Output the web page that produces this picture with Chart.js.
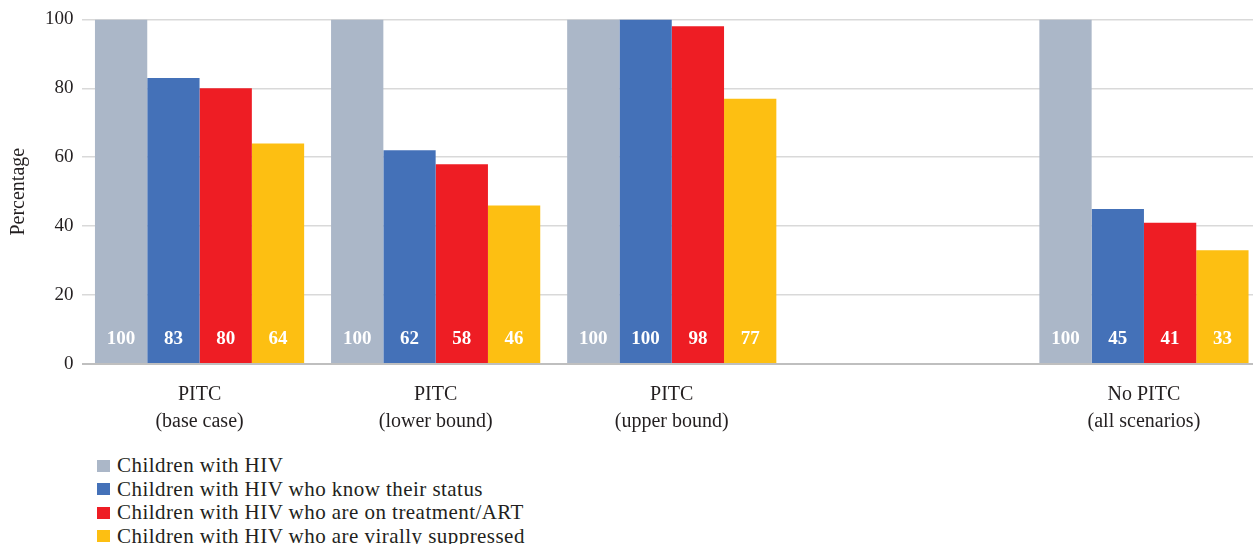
<!DOCTYPE html>
<html lang="en">
<head>
    <meta charset="UTF-8">
    <title>PITC - children with HIV</title>
    <script src="https://cdn.jsdelivr.net/npm/chart.js"></script>
    <style>
        html, body {
            margin: 0;
            padding: 0;
            background: #ffffff;
            overflow: hidden;
            width: 1253px;
            height: 544px;
        }
        #wrap {
            position: relative;
            width: 1262px;
            height: 440px;
        }
        #legend {
            position: absolute;
            left: 97px;
            top: 454px;
            font-family: "Liberation Serif", "DejaVu Serif", serif;
            font-size: 21px;
            letter-spacing: 0.45px;
            color: #231f20;
            line-height: 23.5px;
        }
        #legend .item {
            display: flex;
            align-items: center;
            white-space: nowrap;
        }
        #legend .box {
            width: 13px;
            height: 12px;
            margin-right: 7px;
            flex: none;
        }
    </style>
</head>
<body>
    <div id="wrap">
        <canvas id="chart"></canvas>
    </div>
    <div id="legend"></div>

    <script>
        // categories (the 4th one is an empty slot in the original figure)
        const categories = [
            ['PITC', '(base case)'],
            ['PITC', '(lower bound)'],
            ['PITC', '(upper bound)'],
            '',
            ['No PITC', '(all scenarios)']
        ];

        const seriesNames = [
            'Children with HIV',
            'Children with HIV who know their status',
            'Children with HIV who are on treatment/ART',
            'Children with HIV who are virally suppressed'
        ];

        const withHiv       = [100, 100, 100, null, 100];
        const knowStatus    = [83, 62, 100, null, 45];
        const onTreatment   = [80, 58, 98, null, 41];
        const suppressed    = [64, 46, 77, null, 33];

        const yTicks = [0, 20, 40, 60, 80, 100];

        const colors = ['#abb7c8', '#4471b8', '#ee1d24', '#fdbf12'];
        const serif = '"Liberation Serif", "DejaVu Serif", serif';

        // white value labels near the bottom of each bar
        const barLabels = {
            id: 'barLabels',
            afterDatasetsDraw(chart) {
                const ctx = chart.ctx;
                ctx.save();
                ctx.fillStyle = '#ffffff';
                ctx.font = 'bold 19px ' + serif;
                ctx.textAlign = 'center';
                ctx.textBaseline = 'middle';
                chart.data.datasets.forEach((ds, i) => {
                    chart.getDatasetMeta(i).data.forEach((bar, j) => {
                        if (ds.data[j] == null) return;
                        ctx.fillText(ds.data[j], bar.x, bar.base - 24);
                    });
                });
                ctx.restore();
            }
        };

        const values = [withHiv, knowStatus, onTreatment, suppressed];

        const chart = new Chart(document.getElementById('chart'), {
            type: 'bar',
            data: {
                labels: categories,
                datasets: values.map((v, i) => ({
                    label: seriesNames[i],
                    data: v,
                    backgroundColor: colors[i],
                    borderWidth: 0,
                    categoryPercentage: 0.886,
                    barPercentage: 1.0
                }))
            },
            options: {
                responsive: true,
                maintainAspectRatio: false,
                animation: false,
                layout: { padding: { top: 7, right: 0, bottom: 0, left: 0 } },
                plugins: {
                    legend: { display: false },
                    tooltip: { enabled: false }
                },
                scales: {
                    x: {
                        grid: { display: false, drawTicks: false },
                        border: { display: false },
                        ticks: {
                            color: '#231f20',
                            font: { family: serif, size: 20, lineHeight: 1.35 },
                            padding: 17,
                            autoSkip: false,
                            maxRotation: 0
                        },
                        afterFit(s) { s.height = 76; }
                    },
                    y: {
                        min: 0,
                        max: 100,
                        afterBuildTicks(s) { s.ticks = yTicks.map(v => ({ value: v })); },
                        grid: {
                            color: ctx => ctx.tick.value === 0 ? '#bfbfbf' : '#d9d9d9',
                            lineWidth: ctx => ctx.tick.value === 0 ? 2 : 1.5,
                            drawTicks: false
                        },
                        border: { display: false },
                        ticks: {
                            color: '#231f20',
                            font: { family: serif, size: 19 },
                            padding: 8
                        },
                        title: {
                            display: true,
                            text: 'Percentage',
                            color: '#231f20',
                            font: { family: serif, size: 20 },
                            padding: { top: 7, bottom: 0 }
                        },
                        afterFit(s) { s.width = 81.5; }
                    }
                }
            },
            plugins: [barLabels]
        });

        // vertical legend below the chart
        const legend = document.getElementById('legend');
        seriesNames.forEach((name, i) => {
            const item = document.createElement('div');
            item.className = 'item';
            const box = document.createElement('span');
            box.className = 'box';
            box.style.background = colors[i];
            const txt = document.createElement('span');
            txt.textContent = name;
            item.appendChild(box);
            item.appendChild(txt);
            legend.appendChild(item);
        });
    </script>
</body>
</html>
